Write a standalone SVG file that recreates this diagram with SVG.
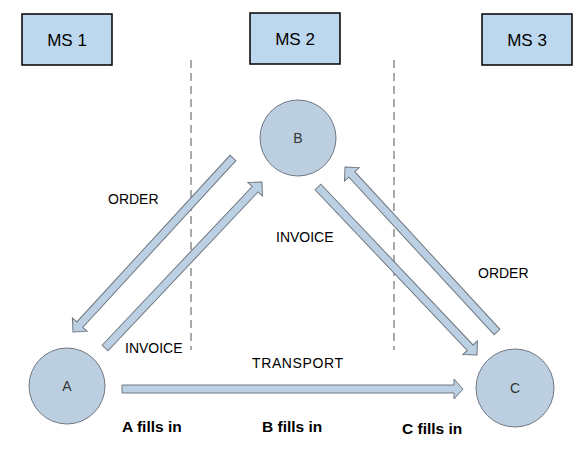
<svg xmlns="http://www.w3.org/2000/svg" width="584" height="454" viewBox="0 0 584 454">
<style>
.box{fill:#bdd7ee;stroke:#000;stroke-width:1.5}
.node{fill:#bccfe1;stroke:#6f7680;stroke-width:1}
.arr{fill:#bcd0e3;stroke:#707880;stroke-width:1;stroke-linejoin:miter}
.dash{stroke:#555;stroke-width:1;stroke-dasharray:8,5;fill:none}
.t{font-family:"Liberation Sans",Arial,sans-serif;fill:#000}
.ms{font-size:17px;text-anchor:middle}
.lbl{font-size:14px}
.nl{font-size:14px;text-anchor:middle;fill:#333}
.b{font-size:15.5px;font-weight:bold}
</style>
<defs>
<polygon id="ah" points="0,-4 -10,-4 -10,-10 0,0 -10,10 -10,4"/>
</defs>
<rect width="584" height="454" fill="#fff"/>
<g id="ms1"><rect class="box" x="22" y="14" width="90" height="51"/><text class="t ms" x="67" y="46">MS 1</text></g>
<g id="ms2"><rect class="box" x="250" y="13" width="90" height="51"/><text class="t ms" x="295" y="45">MS 2</text></g>
<g id="ms3"><rect class="box" x="482" y="14" width="90" height="51"/><text class="t ms" x="527" y="46">MS 3</text></g>
<g id="dividers">
<line class="dash" x1="191" y1="60" x2="191" y2="350"/>
<line class="dash" x1="394" y1="60" x2="394" y2="350"/>
</g>
<g id="nodeA"><circle class="node" cx="67" cy="386" r="38"/><text class="t nl" x="67" y="391">A</text></g>
<g id="nodeB"><circle class="node" cx="298" cy="138" r="38"/><text class="t nl" x="298" y="143">B</text></g>
<g id="nodeC"><circle class="node" cx="515" cy="388" r="39"/><text class="t nl" x="515" y="393">C</text></g>
<g id="connectors">
<g transform="translate(233,158) rotate(132.6)"><polygon class="arr" points="0,-4 226.4,-4 226.4,-10 236.4,0 226.4,10 226.4,4 0,4"/></g>
<g transform="translate(105,348) rotate(-46.6)"><polygon class="arr" points="0,-4 218.5,-4 218.5,-10 228.5,0 218.5,10 218.5,4 0,4"/></g>
<g transform="translate(318,187) rotate(46.57)"><polygon class="arr" points="0,-4 221.3,-4 221.3,-10 231.3,0 221.3,10 221.3,4 0,4"/></g>
<g transform="translate(497,332) rotate(-132.65)"><polygon class="arr" points="0,-4 214.3,-4 214.3,-10 224.3,0 214.3,10 214.3,4 0,4"/></g>
<g transform="translate(122,389)"><polygon class="arr" points="0,-4 332,-4 332,-10 341,0 332,10 332,4 0,4"/></g>
</g>
<g id="labels">
<text class="t lbl" x="108" y="204">ORDER</text>
<text class="t lbl" x="125" y="353">INVOICE</text>
<text class="t lbl" x="276" y="242">INVOICE</text>
<text class="t lbl" x="478" y="278">ORDER</text>
<text class="t lbl" x="252" y="368" textLength="91">TRANSPORT</text>
<text class="t b" x="122" y="432">A fills in</text>
<text class="t b" x="262" y="432">B fills in</text>
<text class="t b" x="402" y="434">C fills in</text>
</g>
</svg>
